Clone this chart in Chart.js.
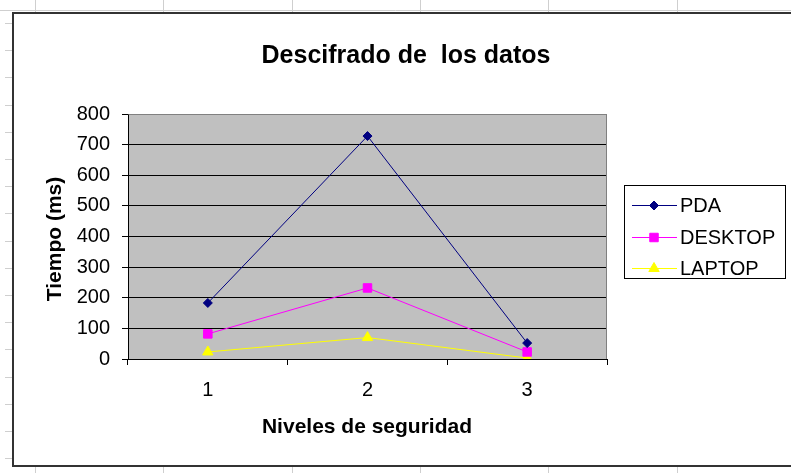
<!DOCTYPE html>
<html>
<head>
<meta charset="utf-8">
<title>Descifrado de los datos</title>
<script src="https://cdn.jsdelivr.net/npm/chart.js@4/dist/chart.umd.min.js"></script>
<style>
  html, body { margin: 0; padding: 0; background: #ffffff; }
  #wrap { width: 791px; height: 473px; }
</style>
</head>
<body>
<div id="wrap"><canvas id="chart" width="791" height="473"></canvas></div>
<script>
// Niveles de seguridad (categorías del eje X)
const niveles = ['1', '2', '3'];

// Tiempo de descifrado en ms por dispositivo
const pda = [183, 728, 52];
const desktop = [82, 232, 23];
const laptop = [23, 70, 3];

// Escala del eje Y
const yMin = 0;
const yMax = 800;
const yStep = 100;

// Textos
const chartTitle = 'Descifrado de  los datos';
const xTitle = 'Niveles de seguridad';
const yTitle = 'Tiempo (ms)';
const seriesNames = ['PDA', 'DESKTOP', 'LAPTOP'];

const FONT = "'Liberation Sans', Arial, Helvetica, sans-serif";

// Hoja de cálculo de fondo y marco del gráfico
const sheetBackground = {
  id: 'sheetBackground',
  beforeDraw(chart) {
    const ctx = chart.ctx;
    const W = chart.width, H = chart.height;
    ctx.save();
    ctx.fillStyle = '#ffffff';
    ctx.fillRect(0, 0, W, H);
    // líneas de celdas visibles fuera del gráfico
    ctx.strokeStyle = '#cfcfcf';
    ctx.lineWidth = 1;
    ctx.beginPath();
    ctx.moveTo(0, 10.5); ctx.lineTo(W, 10.5);
    for (let x = 35; x < W; x += 128.3) {
      const px = Math.round(x) + 0.5;
      ctx.moveTo(px, 0); ctx.lineTo(px, 12);
      ctx.moveTo(px, 467); ctx.lineTo(px, H);
    }
    for (let y = 23; y < 466; y += 27.2) {
      const py = Math.round(y) + 0.5;
      ctx.moveTo(5, py); ctx.lineTo(12, py);
    }
    ctx.stroke();
    // marco del área del gráfico
    ctx.strokeStyle = '#333333';
    ctx.lineWidth = 2;
    ctx.beginPath();
    ctx.moveTo(W + 5, 13);
    ctx.lineTo(13, 13);
    ctx.lineTo(13, 466);
    ctx.lineTo(W + 5, 466);
    ctx.stroke();
    // fondo gris del área de trazado
    const a = chart.chartArea;
    ctx.fillStyle = '#c0c0c0';
    ctx.fillRect(a.left, a.top, a.right - a.left, a.bottom - a.top);
    ctx.restore();
  },
  beforeDatasetsDraw(chart) {
    const ctx = chart.ctx;
    const a = chart.chartArea;
    ctx.save();
    ctx.strokeStyle = '#808080';
    ctx.lineWidth = 1;
    ctx.beginPath();
    ctx.moveTo(Math.round(a.left) + 0.5, Math.round(a.top) + 0.5);
    ctx.lineTo(Math.round(a.right) - 0.5, Math.round(a.top) + 0.5);
    ctx.lineTo(Math.round(a.right) - 0.5, Math.round(a.bottom));
    ctx.stroke();
    ctx.restore();
  }
};

// Títulos y leyenda
const labelsAndLegend = {
  id: 'labelsAndLegend',
  afterDraw(chart) {
    const ctx = chart.ctx;
    ctx.save();
    ctx.fillStyle = '#000000';
    ctx.textBaseline = 'alphabetic';
    ctx.textAlign = 'center';

    ctx.font = 'bold 25px ' + FONT;
    ctx.fillText(chartTitle, 406, 63);

    ctx.font = 'bold 21px ' + FONT;
    ctx.fillText(xTitle, 367, 433);

    ctx.save();
    ctx.translate(61, 239);
    ctx.rotate(-Math.PI / 2);
    ctx.fillText(yTitle, 0, 0);
    ctx.restore();

    // leyenda
    const box = { x: 624.5, y: 185.5, w: 161, h: 93 };
    ctx.fillStyle = '#ffffff';
    ctx.fillRect(box.x, box.y, box.w, box.h);
    ctx.strokeStyle = '#000000';
    ctx.lineWidth = 1;
    ctx.strokeRect(box.x, box.y, box.w, box.h);

    ctx.font = '20px ' + FONT;
    ctx.textAlign = 'left';
    ctx.textBaseline = 'middle';
    const rows = [205, 237, 268];
    chart.data.datasets.forEach((ds, i) => {
      const y = rows[i] + 0.5;
      ctx.strokeStyle = ds.borderColor;
      ctx.lineWidth = 1;
      ctx.beginPath();
      ctx.moveTo(632, y);
      ctx.lineTo(677, y);
      ctx.stroke();
      ctx.fillStyle = ds.pointBackgroundColor;
      ctx.strokeStyle = ds.pointBorderColor;
      Chart.helpers.drawPoint(ctx, {
        pointStyle: ds.pointStyle,
        radius: ds.pointRadius,
        borderWidth: 1,
        rotation: 0
      }, 654, y);
      ctx.fillStyle = '#000000';
      ctx.fillText(ds.label, 680, y + 1);
    });
    ctx.restore();
  }
};

new Chart(document.getElementById('chart'), {
  type: 'line',
  data: {
    labels: niveles,
    datasets: [
      {
        label: seriesNames[0],
        data: pda,
        borderColor: '#000080',
        backgroundColor: '#000080',
        pointBackgroundColor: '#000080',
        pointBorderColor: '#000080',
        pointStyle: 'rectRot',
        pointRadius: 4.5,
        borderWidth: 1,
        pointBorderWidth: 1,
        tension: 0
      },
      {
        label: seriesNames[1],
        data: desktop,
        borderColor: '#ff00ff',
        backgroundColor: '#ff00ff',
        pointBackgroundColor: '#ff00ff',
        pointBorderColor: '#ff00ff',
        pointStyle: 'rect',
        pointRadius: 6,
        borderWidth: 1,
        pointBorderWidth: 1,
        tension: 0
      },
      {
        label: seriesNames[2],
        data: laptop,
        borderColor: '#ffff00',
        backgroundColor: '#ffff00',
        pointBackgroundColor: '#ffff00',
        pointBorderColor: '#ffff00',
        pointStyle: 'triangle',
        pointRadius: 6,
        borderWidth: 1,
        pointBorderWidth: 1,
        tension: 0
      }
    ]
  },
  options: {
    responsive: false,
    animation: false,
    devicePixelRatio: 1,
    layout: { padding: { left: 68, top: 114, right: 184, bottom: 74 } },
    plugins: {
      legend: { display: false },
      title: { display: false },
      tooltip: { enabled: false }
    },
    scales: {
      x: {
        type: 'category',
        offset: true,
        afterFit(scale) { scale.height = 40; },
        grid: {
          offset: true,
          drawOnChartArea: false,
          drawTicks: true,
          tickLength: 6,
          tickColor: '#000000',
          tickWidth: 1
        },
        border: { display: true, color: '#000000', width: 1 },
        ticks: {
          color: '#000000',
          font: { family: FONT, size: 20 },
          padding: 13,
          maxRotation: 0
        }
      },
      y: {
        min: yMin,
        max: yMax,
        afterFit(scale) { scale.width = 60; },
        grid: {
          color: (c) => (c.tick && c.tick.value === yMax ? '#808080' : '#000000'),
          lineWidth: 1,
          drawTicks: true,
          tickLength: 6,
          tickColor: '#000000',
          tickWidth: 1
        },
        border: { display: true, color: '#000000', width: 1 },
        ticks: {
          stepSize: yStep,
          color: '#000000',
          font: { family: FONT, size: 20 },
          padding: 12
        }
      }
    }
  },
  plugins: [sheetBackground, labelsAndLegend]
});
</script>
</body>
</html>
